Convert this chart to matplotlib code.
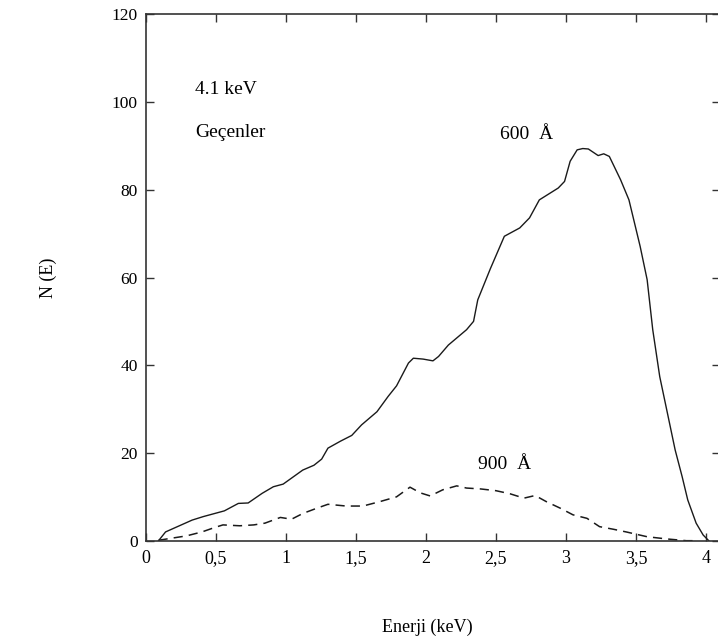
import numpy as np
import matplotlib.pyplot as plt

plt.rcParams['font.family'] = ['Liberation Serif', 'DejaVu Serif']

# 600 A curve (solid)
e600 = [0.09, 0.14, 0.33, 0.41, 0.56, 0.66, 0.73, 0.83, 0.91, 0.98, 1.12, 1.2,
        1.255, 1.30, 1.39, 1.47, 1.54, 1.65, 1.73, 1.79, 1.875, 1.91, 1.98, 2.05,
        2.09, 2.16, 2.29, 2.34, 2.37, 2.46, 2.56, 2.67, 2.74, 2.81, 2.945, 2.99,
        3.03, 3.08, 3.12, 3.16, 3.23, 3.27, 3.31, 3.39, 3.45, 3.53, 3.58, 3.62,
        3.67, 3.73, 3.78, 3.83, 3.87, 3.93, 3.98, 4.02]
n600 = [0.0, 2.0, 4.7, 5.5, 6.8, 8.5, 8.6, 10.8, 12.3, 12.9, 16.1, 17.2,
        18.6, 21.1, 22.7, 24.0, 26.4, 29.4, 32.9, 35.3, 40.5, 41.6, 41.4, 41.0,
        42.0, 44.6, 48.1, 50.0, 54.9, 62.0, 69.4, 71.3, 73.6, 77.7, 80.4, 81.9,
        86.5, 89.1, 89.4, 89.3, 87.8, 88.2, 87.6, 82.3, 77.7, 67.1, 59.5, 48.1,
        37.4, 28.3, 20.7, 14.6, 9.3, 4.0, 1.3, 0.0]

# 900 A curve (dashed)
e900 = [0.09, 0.17, 0.29, 0.40, 0.49, 0.55, 0.67, 0.77, 0.85, 0.96, 1.04, 1.12,
        1.22, 1.30, 1.43, 1.55, 1.67, 1.79, 1.886, 1.96, 2.03, 2.12, 2.22, 2.29,
        2.39, 2.50, 2.60, 2.70, 2.78, 2.86, 2.96, 3.05, 3.15, 3.24, 3.34, 3.43,
        3.58, 3.72, 3.86, 3.92]
n900 = [0.1, 0.5, 1.1, 2.0, 3.0, 3.6, 3.4, 3.6, 4.0, 5.3, 4.9, 6.2,
        7.4, 8.3, 7.9, 7.9, 8.9, 10.0, 12.2, 10.9, 10.2, 11.6, 12.5, 12.0,
        11.8, 11.4, 10.7, 9.7, 10.3, 8.9, 7.4, 5.9, 5.1, 3.2, 2.6, 2.0,
        0.9, 0.4, 0.0, 0.0]

xticks = [0, 0.5, 1, 1.5, 2, 2.5, 3, 3.5, 4]
xlabels = ['0', '0,5', '1', '1,5', '2', '2,5', '3', '3,5', '4']
yticks = [0, 20, 40, 60, 80, 100, 120]

fig = plt.figure(figsize=(7.18, 6.42), dpi=100)
ax = fig.add_axes([0.2033, 0.1578, 0.7994, 0.8199])

ax.plot(e600, n600, color='#1a1a1a', lw=1.0)
ax.plot(e900, n900, color='#1a1a1a', lw=1.1, dashes=(6, 4))

ax.set_xlim(0, 4.1)
ax.set_ylim(0, 120)
ax.set_xticks(xticks)
ax.set_xticklabels(xlabels)
ax.set_yticks(yticks)
ax.tick_params(direction='in', length=6, width=1, colors='#333333',
               top=True, right=True, labelcolor='black')
ax.tick_params(axis='x', labelsize=13, pad=7)
ax.tick_params(axis='y', labelsize=12.5, pad=6)
for s in ax.spines.values():
    s.set_linewidth(1.2)
    s.set_color('#333333')

ax.set_xlabel('Enerji (keV)', fontsize=13)
ax.set_ylabel('N (E)', fontsize=13)
ax.xaxis.set_label_coords(0.49, -0.149)
ax.yaxis.set_label_coords(-0.155, 0.5)

ax.text(0.35, 102.8, '4.1 keV', fontsize=14, va='center')
ax.text(0.35, 93, 'Geçenler', fontsize=14, va='center')
ax.text(2.53, 92.6, '600  Å', fontsize=14, va='center')
ax.text(2.37, 17.3, '900  Å', fontsize=14, va='center')

plt.savefig('out.png', dpi=100)
